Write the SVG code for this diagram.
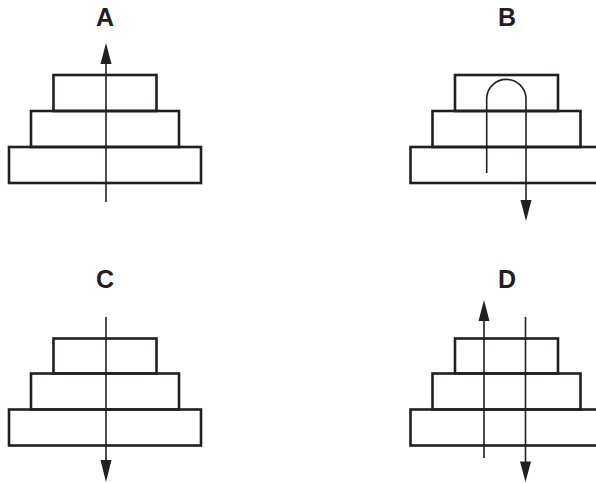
<svg xmlns="http://www.w3.org/2000/svg" width="596" height="483" viewBox="0 0 596 483">
<style>
.blk{fill:none;stroke:#231f20;stroke-width:2.6}
.ln{fill:none;stroke:#231f20;stroke-width:1.6}
.lbl{font-family:"Liberation Sans",Arial,sans-serif;font-weight:bold;font-size:25px;fill:#231f20;text-anchor:middle}
.ah{fill:#231f20}
</style>
<rect width="596" height="483" fill="#fff"/>
<g id="A">
<text class="lbl" x="105" y="25.5">A</text>
<rect class="blk" x="53.5" y="75" width="103" height="36"/>
<rect class="blk" x="31" y="111" width="148" height="36"/>
<rect class="blk" x="9" y="147" width="192" height="36"/>
</g>
<g id="B">
<text class="lbl" x="507" y="25.5">B</text>
<rect class="blk" x="455" y="75" width="103" height="36"/>
<rect class="blk" x="432.5" y="111" width="148" height="36"/>
<rect class="blk" x="410.5" y="147" width="192" height="36"/>
</g>
<g id="C">
<text class="lbl" x="105" y="288">C</text>
<rect class="blk" x="53.5" y="338.5" width="103" height="35"/>
<rect class="blk" x="31" y="373.5" width="148" height="36"/>
<rect class="blk" x="9" y="409.5" width="192" height="36"/>
</g>
<g id="D">
<text class="lbl" x="507" y="288">D</text>
<rect class="blk" x="455" y="338.5" width="103" height="35"/>
<rect class="blk" x="432.5" y="373.5" width="148" height="36"/>
<rect class="blk" x="410.5" y="409.5" width="192" height="36"/>
</g>
<g id="connectors">
<line class="ln" x1="106" y1="202" x2="106" y2="62"/>
<polygon class="ah" points="106,43 100.5,64 111.5,64"/>
<path class="ln" d="M486.7,173 V97.7 A19.7,19.7 0 0 1 526,97.7 V202"/>
<polygon class="ah" points="526,221 520.5,200 531.5,200"/>
<line class="ln" x1="106" y1="317" x2="106" y2="462"/>
<polygon class="ah" points="106,482 100.5,460 111.5,460"/>
<line class="ln" x1="484" y1="458" x2="484" y2="319"/>
<polygon class="ah" points="484,300 478.5,321 489.5,321"/>
<line class="ln" x1="525.5" y1="317" x2="525.5" y2="463"/>
<polygon class="ah" points="525.5,482 520,461.5 531,461.5"/>
</g>
</svg>
